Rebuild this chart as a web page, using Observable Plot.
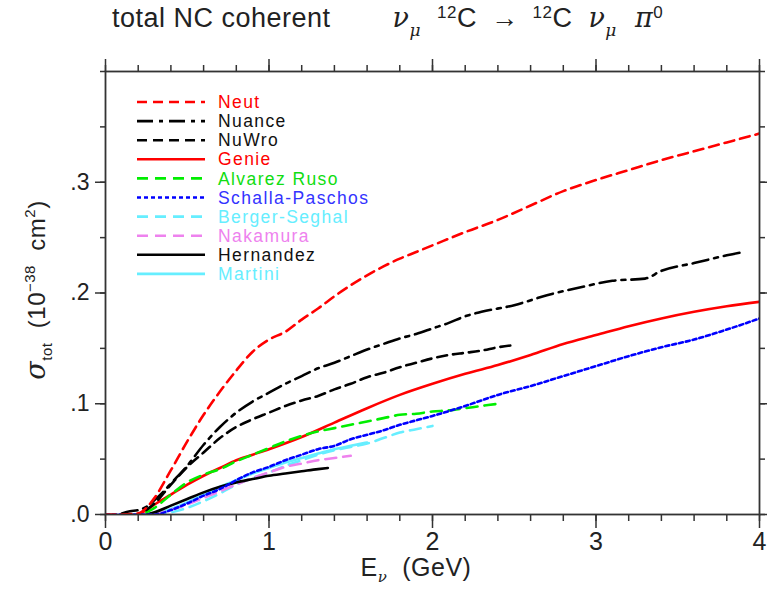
<!DOCTYPE html>
<html>
<head>
<meta charset="utf-8">
<script src="https://cdn.jsdelivr.net/npm/d3@7"></script>
<script src="https://cdn.jsdelivr.net/npm/@observablehq/plot@0.6"></script>
<style>
  body { margin: 0; background: #fff; }
  #wrap { position: relative; width: 767px; height: 589px; font-family: "Liberation Sans", Arial, sans-serif; color: #222; }
  #title { position: relative; height: 50px; font-size: 27px; letter-spacing: 0.5px; white-space: pre; }
  #title span.t { position: absolute; left: 112px; top: 2px; }
  #title .g { display: inline-block; }
  #title sub { font-size: 17px; vertical-align: -9px; }
  #title sup { font-size: 17px; vertical-align: 9px; }
  #title i { font-family: "DejaVu Serif", serif; }
</style>
</head>
<body>
<div id="wrap">
  <div id="title"><span class="t">total NC coherent<span class="g" style="margin-left:62px"><i>ν</i><sub><i>μ</i></sub></span><span class="g" style="margin-left:16px"><sup>12</sup>C</span><span class="g" style="margin-left:14px">→</span><span class="g" style="margin-left:14px"><sup>12</sup>C</span><span class="g" style="margin-left:16px"><i>ν</i><sub><i>μ</i></sub></span><span class="g" style="margin-left:18px"><i>π</i><sup>0</sup></span></span></div>
  <div id="chart"></div>
</div>
<script>
// Total NC coherent pi0 cross section on carbon, sigma in 1e-38 cm^2 versus E_nu in GeV
const neut = [[0,0],[0.1,0],[0.2,0.001],[0.25,0.006],[0.3,0.015],[0.4,0.04],[0.5,0.066],[0.6,0.09],[0.7,0.111],[0.8,0.13],[0.9,0.147],[1.0,0.158],[1.1,0.165],[1.2,0.176],[1.3,0.186],[1.4,0.197],[1.5,0.207],[1.6,0.216],[1.7,0.224],[1.8,0.231],[1.9,0.237],[2.0,0.243],[2.2,0.255],[2.4,0.266],[2.6,0.279],[2.8,0.292],[3.0,0.302],[3.2,0.311],[3.4,0.32],[3.6,0.328],[3.8,0.336],[4.0,0.344]];
const nuance = [[0.1,0.001],[0.15,0.003],[0.2,0.004],[0.25,0.007],[0.3,0.013],[0.35,0.02],[0.4,0.028],[0.5,0.044],[0.6,0.063],[0.7,0.079],[0.8,0.092],[0.9,0.102],[1.0,0.11],[1.1,0.118],[1.2,0.125],[1.3,0.132],[1.4,0.137],[1.5,0.143],[1.6,0.149],[1.7,0.154],[1.8,0.159],[1.9,0.163],[2.0,0.168],[2.1,0.173],[2.2,0.179],[2.3,0.183],[2.5,0.189],[2.7,0.198],[2.9,0.205],[3.1,0.211],[3.3,0.213],[3.4,0.22],[3.6,0.227],[3.8,0.234],[3.9,0.237]];
const nuwro = [[0.25,0.004],[0.3,0.01],[0.4,0.027],[0.5,0.043],[0.6,0.056],[0.7,0.069],[0.8,0.079],[0.9,0.086],[1.0,0.092],[1.1,0.098],[1.2,0.103],[1.3,0.107],[1.4,0.113],[1.5,0.118],[1.6,0.124],[1.7,0.128],[1.8,0.133],[1.9,0.137],[2.0,0.141],[2.1,0.144],[2.2,0.146],[2.3,0.148],[2.4,0.151],[2.5,0.153]];
const genie = [[0.2,0],[0.25,0.004],[0.3,0.009],[0.4,0.018],[0.5,0.027],[0.6,0.035],[0.7,0.042],[0.8,0.049],[0.9,0.054],[1.0,0.059],[1.2,0.07],[1.4,0.083],[1.6,0.096],[1.8,0.108],[2.0,0.118],[2.2,0.127],[2.4,0.135],[2.6,0.144],[2.8,0.154],[3.0,0.162],[3.2,0.17],[3.4,0.177],[3.6,0.183],[3.8,0.188],[4.0,0.192]];
const alvarezRuso = [[0.25,0.002],[0.3,0.006],[0.4,0.018],[0.5,0.029],[0.6,0.036],[0.7,0.041],[0.8,0.048],[0.9,0.054],[1.0,0.06],[1.1,0.066],[1.2,0.071],[1.3,0.075],[1.4,0.078],[1.5,0.081],[1.6,0.084],[1.7,0.087],[1.8,0.09],[1.9,0.091],[2.0,0.093],[2.1,0.094],[2.2,0.096],[2.3,0.098],[2.4,0.1]];
const schallaPaschos = [[0,0],[0.2,0],[0.3,0],[0.4,0.004],[0.5,0.01],[0.6,0.017],[0.7,0.023],[0.8,0.031],[0.9,0.038],[1.0,0.043],[1.1,0.049],[1.2,0.054],[1.3,0.059],[1.4,0.062],[1.5,0.068],[1.6,0.072],[1.7,0.076],[1.8,0.081],[1.9,0.085],[2.0,0.089],[2.2,0.098],[2.4,0.108],[2.6,0.116],[2.8,0.125],[3.0,0.134],[3.2,0.143],[3.4,0.151],[3.6,0.158],[3.8,0.167],[4.0,0.177]];
const bergerSehgal = [[0.3,0],[0.4,0.002],[0.5,0.006],[0.6,0.012],[0.7,0.019],[0.8,0.027],[0.9,0.033],[1.0,0.038],[1.1,0.044],[1.2,0.049],[1.3,0.054],[1.4,0.058],[1.5,0.061],[1.6,0.064],[1.7,0.069],[1.8,0.074],[1.9,0.077],[2.0,0.08]];
const nakamura = [[0.3,0],[0.4,0.004],[0.5,0.009],[0.6,0.015],[0.7,0.021],[0.8,0.027],[0.9,0.033],[1.0,0.038],[1.1,0.043],[1.2,0.046],[1.3,0.049],[1.4,0.051],[1.5,0.053]];
const hernandez = [[0.25,0],[0.3,0.002],[0.4,0.008],[0.5,0.014],[0.6,0.02],[0.7,0.025],[0.8,0.029],[0.9,0.032],[1.0,0.035],[1.1,0.037],[1.2,0.039],[1.3,0.041],[1.36,0.042]];
const martini = [[0.3,0],[0.4,0.005],[0.5,0.011],[0.6,0.018],[0.7,0.025],[0.8,0.031],[0.9,0.037],[1.0,0.042],[1.1,0.047],[1.2,0.051],[1.3,0.055],[1.4,0.059],[1.5,0.062],[1.6,0.065]];

// legend order
const modelNames = ["Neut","Nuance","NuWro","Genie","Alvarez Ruso","Schalla-Paschos","Berger-Seghal","Nakamura","Hernandez","Martini"];
const modelData = [neut, nuance, nuwro, genie, alvarezRuso, schallaPaschos, bergerSehgal, nakamura, hernandez, martini];

// axis ticks
const xMajor = [0, 1, 2, 3, 4];
const xMajorLabels = ["0", "1", "2", "3", "4"];
const yMajor = [0, 0.1, 0.2, 0.3];
const yMajorLabels = [".0", ".1", ".2", ".3"];
const xMinor = d3.range(0, 4.0001, 0.2);
const yMinor = d3.range(0, 0.4001, 0.05);

// line styles per model
const styles = {
  "Neut":            {color: "#ff0000", dash: "10,6"},
  "Nuance":          {color: "#000000", dash: "16,6,4,6"},
  "NuWro":           {color: "#000000", dash: "10,6"},
  "Genie":           {color: "#ff0000", dash: null},
  "Alvarez Ruso":    {color: "#00ee00", dash: "11,7"},
  "Schalla-Paschos": {color: "#0000ff", dash: "4,3"},
  "Berger-Seghal":   {color: "#66eeff", dash: "11,7"},
  "Nakamura":        {color: "#ee82ee", dash: "11,7"},
  "Hernandez":       {color: "#000000", dash: null},
  "Martini":         {color: "#66eeff", dash: null}
};
const textColors = {"Nuance": "#111", "NuWro": "#111", "Hernandez": "#111", "Schalla-Paschos": "#3333ff", "Alvarez Ruso": "#11dd11"};

const drawOrder = ["Martini","Berger-Seghal","Nakamura","Hernandez","Genie","Alvarez Ruso","Schalla-Paschos","NuWro","Nuance","Neut"];

const axisColor = "#333";
const lineMarks = drawOrder.map(name => {
  const i = modelNames.indexOf(name);
  const st = styles[name];
  return Plot.line(modelData[i], {
    x: d => d[0], y: d => d[1],
    stroke: st.color, strokeWidth: 2.6,
    strokeDasharray: st.dash, curve: "monotone-x", clip: true
  });
});

const chart = Plot.plot({
  width: 767,
  height: 539,
  marginLeft: 105,
  marginRight: 8,
  marginTop: 21,
  marginBottom: 75,
  style: {fontFamily: "'Liberation Sans', Arial, sans-serif", color: "#222", background: "#fff", overflow: "visible"},
  x: {domain: [0, 4], label: null},
  y: {domain: [0, 0.4], label: null},
  marks: [
    ...lineMarks,
    // bottom axis
    Plot.axisX(xMajor, {anchor: "bottom", tickSize: 14, tickPadding: 4, fontSize: 25, stroke: axisColor, strokeWidth: 1.5,
      tickFormat: d => xMajorLabels[xMajor.indexOf(d)], label: null}),
    Plot.axisX(xMinor, {anchor: "bottom", tickSize: 7, stroke: axisColor, strokeWidth: 1.5, tickFormat: () => "", label: null}),
    // top axis
    Plot.axisX(xMajor, {anchor: "top", tickSize: 13, stroke: axisColor, strokeWidth: 1.5, tickFormat: () => "", label: null}),
    Plot.axisX(xMinor, {anchor: "top", tickSize: 7, stroke: axisColor, strokeWidth: 1.5, tickFormat: () => "", label: null}),
    // left axis
    Plot.axisY(yMajor, {anchor: "left", tickSize: 10, tickPadding: 6, fontSize: 23, stroke: axisColor, strokeWidth: 1.5,
      tickFormat: d => yMajorLabels[yMajor.indexOf(d)], label: null}),
    Plot.axisY(yMinor, {anchor: "left", tickSize: 5, stroke: axisColor, strokeWidth: 1.5, tickFormat: () => "", label: null}),
    // right axis
    Plot.axisY(yMajor, {anchor: "right", tickSize: 10, stroke: axisColor, strokeWidth: 1.5, tickFormat: () => "", label: null}),
    Plot.axisY(yMinor, {anchor: "right", tickSize: 5, stroke: axisColor, strokeWidth: 1.5, tickFormat: () => "", label: null}),
    Plot.frame({stroke: axisColor, strokeWidth: 1.8})
  ]
});
document.getElementById("chart").appendChild(chart);

// legend and axis titles drawn into the plot's svg
const svg = d3.select(chart);
const frameLeft = 105, frameTop = 21;
const legend = svg.append("g").attr("font-size", 17.5).attr("letter-spacing", "1.4px").attr("text-anchor", "start");
modelNames.forEach((name, i) => {
  const st = styles[name];
  const y = frameTop + 31 + i * 19.1;
  legend.append("line")
    .attr("x1", frameLeft + 32).attr("x2", frameLeft + 100)
    .attr("y1", y).attr("y2", y)
    .attr("stroke", st.color).attr("stroke-width", 2.6)
    .attr("stroke-dasharray", st.dash);
  legend.append("text")
    .attr("x", frameLeft + 113).attr("y", y).attr("dy", "0.35em")
    .attr("fill", textColors[name] || st.color)
    .text(name);
});

// x axis title: E_nu (GeV)
const xt = svg.append("text").attr("x", 416).attr("y", 526).attr("text-anchor", "middle")
  .attr("font-size", 25).attr("fill", "#222").attr("letter-spacing", "0.5px");
xt.append("tspan").text("E");
xt.append("tspan").attr("font-size", 15).attr("dy", 6).attr("font-family", "'DejaVu Serif', serif").attr("font-style", "italic").text("ν");
xt.append("tspan").attr("dy", -6).text("  (GeV)");

// y axis title: sigma_tot (10^-38 cm^2)
const yt = svg.append("text").attr("transform", "translate(45,240) rotate(-90)").attr("text-anchor", "middle")
  .attr("font-size", 24).attr("fill", "#222").attr("letter-spacing", "0.5px");
yt.append("tspan").attr("font-family", "'DejaVu Serif', serif").attr("font-style", "italic").attr("font-size", 27).text("σ");
yt.append("tspan").attr("font-size", 15).attr("dy", 7).text("tot");
yt.append("tspan").attr("dy", -7).text("  (10");
yt.append("tspan").attr("font-size", 15).attr("dy", -10).text("−38");
yt.append("tspan").attr("dy", 10).text("  cm");
yt.append("tspan").attr("font-size", 15).attr("dy", -10).text("2");
yt.append("tspan").attr("dy", 10).text(")");
</script>
</body>
</html>
